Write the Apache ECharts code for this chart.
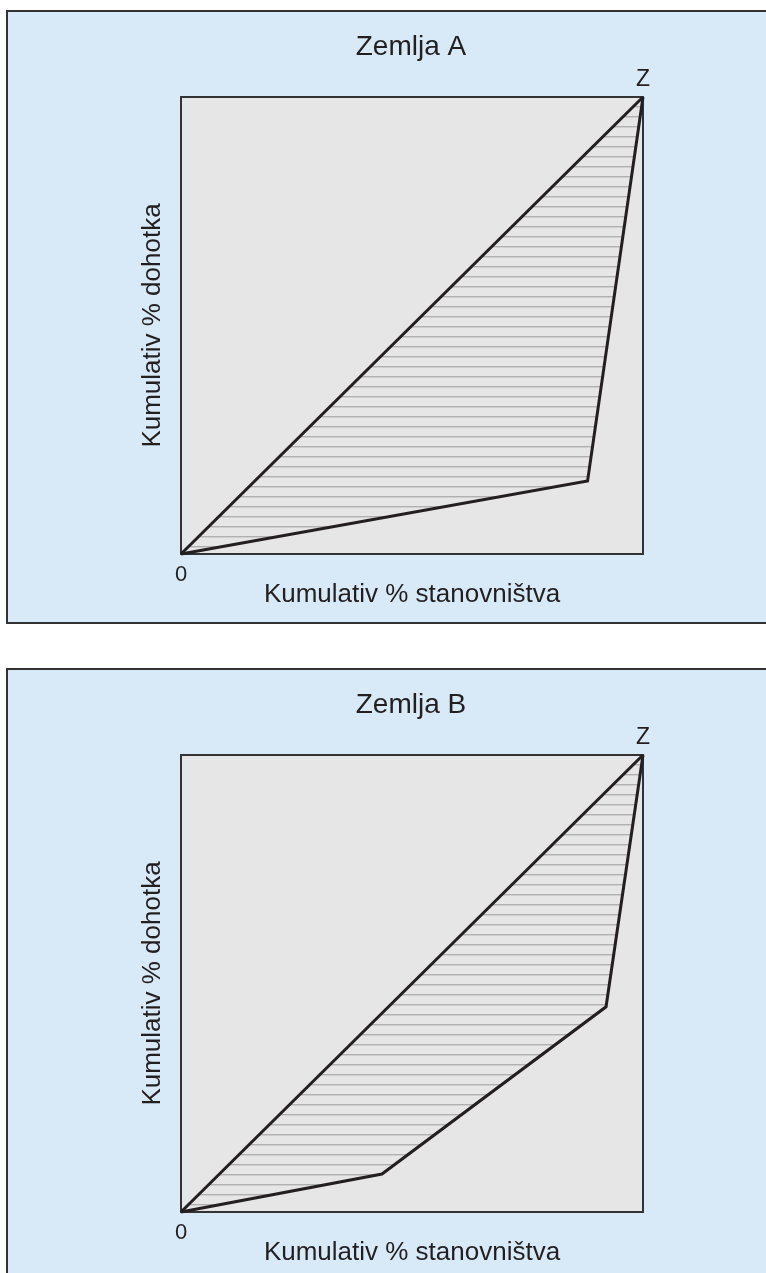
<!DOCTYPE html>
<html>
<head>
<meta charset="utf-8">
<script src="https://cdn.jsdelivr.net/npm/echarts@6/dist/echarts.min.js"></script>
<style>
  html, body { margin:0; padding:0; background:#ffffff; width:766px; height:1273px; overflow:hidden; position:relative; }
  .panel { position:absolute; left:6px; width:806px; border:2px solid #333333; background:#d8eaf7; }
  #chartA { top:10px; height:610px; }
  #chartB { top:668px; height:640px; }
</style>
</head>
<body>
<div id="chartA" class="panel"></div>
<div id="chartB" class="panel"></div>
<script>
// ---- data ----
const titles = ['Zemlja A', 'Zemlja B'];
const xAxisName = 'Kumulativ % stanovništva';
const yAxisName = 'Kumulativ % dohotka';
const originLabel = '0';
const endLabel = 'Z';
const equalityX = [0, 100];
const equalityY = [0, 100];
const popShareA = [0, 88, 100];
const incomeShareA = [0, 16, 100];
const popShareB = [0, 43.5, 92, 100];
const incomeShareB = [0, 8.3, 44.9, 100];

// ---- styles ----
const PLOT_BG = '#e6e6e7';
const INK = '#231f20';
const FONT = '"Liberation Sans", Arial, sans-serif';

function hatchPattern() {
  const c = document.createElement('canvas');
  c.width = 10; c.height = 10;
  const ctx = c.getContext('2d');
  ctx.fillStyle = PLOT_BG;
  ctx.fillRect(0, 0, 10, 10);
  ctx.fillStyle = '#b0b0b0';
  ctx.fillRect(0, 4, 10, 1.4);
  return { image: c, repeat: 'repeat' };
}

function zip(xs, ys) { return xs.map((x, i) => [x, ys[i]]); }

function build(dom, title, xs, ys) {
  const chart = echarts.init(dom, null, { renderer: 'canvas' });
  const axisLine = { show: true, onZero: false, lineStyle: { color: '#333333', width: 2 } };
  chart.setOption({
    animation: false,
    textStyle: { fontFamily: FONT },
    title: {
      text: title, left: 'center', top: 16,
      textStyle: { fontSize: 28, fontWeight: 'normal', color: INK, fontFamily: FONT }
    },
    grid: { left: 173, top: 85, width: 462, height: 457, show: true, backgroundColor: PLOT_BG, borderWidth: 0 },
    xAxis: [
      {
        type: 'value', min: 0, max: 100, interval: 100, position: 'bottom', z: 10,
        axisLine: axisLine, axisTick: { show: false }, splitLine: { show: false },
        axisLabel: { margin: 10, fontSize: 22, color: INK, fontFamily: FONT, formatter: v => v === 0 ? originLabel : '' },
        name: xAxisName, nameLocation: 'middle', nameGap: 28, nameMoveOverlap: false,
        nameTextStyle: { fontSize: 26, color: INK, fontFamily: FONT }
      },
      {
        type: 'value', min: 0, max: 100, interval: 100, position: 'top', z: 10,
        axisLine: axisLine, axisTick: { show: false }, splitLine: { show: false },
        axisLabel: { margin: 6, fontSize: 23, color: INK, fontFamily: FONT, formatter: v => v === 100 ? endLabel : '' }
      }
    ],
    yAxis: [
      {
        type: 'value', min: 0, max: 100, interval: 100, position: 'left', z: 10,
        axisLine: axisLine, axisTick: { show: false }, splitLine: { show: false },
        axisLabel: { show: false },
        name: yAxisName, nameLocation: 'middle', nameGap: 15, nameMoveOverlap: false,
        nameTextStyle: { fontSize: 26, color: INK, fontFamily: FONT }
      },
      {
        type: 'value', min: 0, max: 100, interval: 100, position: 'right', z: 10,
        axisLine: axisLine, axisTick: { show: false }, splitLine: { show: false },
        axisLabel: { show: false }
      }
    ],
    series: [
      {
        type: 'line', data: zip(equalityX, equalityY), symbol: 'none', silent: true, z: 1,
        lineStyle: { width: 0, opacity: 0 }, areaStyle: { color: hatchPattern(), opacity: 1 }
      },
      {
        type: 'line', data: zip(xs, ys), symbol: 'none', silent: true, z: 2,
        lineStyle: { width: 0, opacity: 0 }, areaStyle: { color: PLOT_BG, opacity: 1 }
      },
      {
        type: 'line', data: zip(equalityX, equalityY), symbol: 'none', silent: true, z: 12, clip: false,
        lineStyle: { width: 3, color: INK, join: 'miter' }
      },
      {
        type: 'line', data: zip(xs, ys), symbol: 'none', silent: true, z: 12, clip: false,
        lineStyle: { width: 3, color: INK, join: 'miter' }
      }
    ]
  });
  return chart;
}

build(document.getElementById('chartA'), titles[0], popShareA, incomeShareA);
build(document.getElementById('chartB'), titles[1], popShareB, incomeShareB);
</script>
</body>
</html>
